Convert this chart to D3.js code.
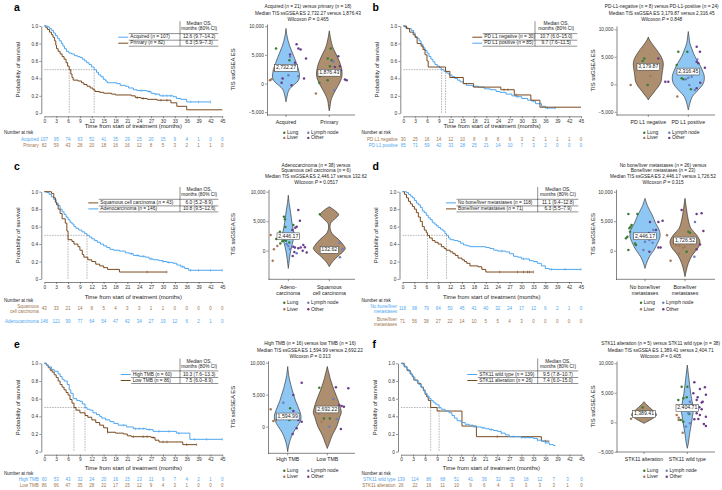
<!DOCTYPE html>
<html><head><meta charset="utf-8">
<script src="https://cdn.jsdelivr.net/npm/d3@7"></script>
<style>
body{margin:0;background:#fff}
svg{display:block}
text{font-family:"Liberation Sans",Arial,Helvetica,sans-serif}
</style>
</head><body>
<svg id="chart" width="722" height="490"></svg>
<script>
// ---------------- DATA ----------------
const riskTimes = [0,3,6,9,12,15,18,21,24,27,30,33,36,39,42,45];
const survTicks = [0,0.2,0.4,0.6,0.8,1];
const siteTypes = ["Lung","Lymph node","Liver","Other"];

// Panel a – KM
const aNames = ["Acquired","Primary"];
const aN = [107,82];
const aMedianText = ["12.6 (9.7–14.2)","6.3 (5.9–7.3)"];
const aMedian = [12.6,6.3];
const aCurveAcquired = [[0,1],[0.8,0.99],[1.3,0.97],[1.8,0.95],[2.3,0.92],[2.8,0.89],[3.3,0.86],[3.8,0.83],[4.3,0.80],[4.7,0.77],[5.1,0.74],[5.6,0.71],[6.2,0.69],[6.9,0.68],[7.6,0.66],[8.4,0.65],[9.0,0.64],[9.6,0.62],[10.2,0.60],[10.7,0.58],[11.3,0.56],[11.9,0.53],[12.6,0.50],[13.2,0.47],[13.7,0.44],[14.3,0.42],[14.9,0.39],[15.5,0.37],[15.9,0.35],[18.3,0.34],[19.2,0.32],[20.4,0.31],[21.3,0.29],[22.5,0.27],[23.4,0.26],[26.0,0.25],[27.0,0.23],[27.8,0.22],[29.2,0.20],[32.6,0.19],[33.4,0.17],[34.5,0.16],[36,0.13],[42,0.13]];
const aCurvePrimary = [[0,1],[0.4,0.98],[0.8,0.96],[1.3,0.93],[1.8,0.90],[2.2,0.87],[2.6,0.83],[2.9,0.78],[3.1,0.74],[3.5,0.71],[4.0,0.68],[4.5,0.65],[5.0,0.62],[5.5,0.58],[5.9,0.54],[6.3,0.50],[6.7,0.45],[7.0,0.41],[7.3,0.38],[8.5,0.37],[9.4,0.35],[10.0,0.33],[10.8,0.31],[11.6,0.29],[12.3,0.27],[12.8,0.25],[14.0,0.24],[15.0,0.23],[17.0,0.22],[18.0,0.21],[22.0,0.20],[23.0,0.18],[24.5,0.17],[26.0,0.16],[28.5,0.15],[32.0,0.12],[33.5,0.08],[36,0.04],[45,0.04]];
const aCensorAcquired = [24.5,26.5,28.2,30,31,32,37,39,42];
const aCensorPrimary = [23.5,25,29.5,31];
const aRiskAcquired = [107,95,74,63,52,41,35,29,25,20,15,9,4,1,0,0];
const aRiskPrimary = [82,59,43,28,20,18,16,16,12,8,5,3,2,1,1,0];

// Panel b – KM
const bNames = ["PD L1 negative","PD L1 positive"];
const bN = [30,85];
const bMedianText = ["10.7 (6.0–15.0)","9.7 (7.6–11.5)"];
const bMedian = [10.7,9.7];
const bCurveNeg = [[0,1],[0.8,0.97],[1.6,0.93],[2.5,0.90],[3.0,0.87],[3.5,0.80],[4.5,0.77],[5.0,0.73],[5.5,0.67],[6.0,0.60],[6.3,0.53],[10.7,0.48],[11.8,0.41],[15.2,0.34],[17.8,0.30],[24.7,0.27],[28.1,0.21],[32.3,0.15],[34.6,0.07],[45,0.07]];
const bCurvePos = [[0,1],[0.5,0.98],[1.2,0.97],[2.0,0.95],[2.6,0.92],[3.0,0.88],[3.5,0.86],[4.0,0.83],[4.5,0.79],[5.0,0.75],[5.5,0.72],[6.0,0.69],[6.5,0.65],[7.0,0.62],[7.5,0.59],[8.0,0.56],[8.6,0.54],[9.2,0.52],[9.7,0.50],[10.3,0.48],[11.0,0.46],[11.6,0.44],[12.3,0.42],[13.0,0.40],[13.7,0.38],[14.4,0.36],[15.2,0.34],[16.0,0.32],[17.5,0.31],[19.0,0.30],[20.5,0.28],[22.0,0.27],[23.5,0.25],[24.5,0.24],[26.0,0.22],[27.5,0.20],[28.5,0.19],[30.0,0.17],[31.5,0.15],[32.5,0.14],[33.5,0.11],[35.0,0.08],[36.0,0.06],[38.5,0.06]];
const bCensorNeg = [25.5,26.5,28.6];
const bCensorPos = [29,33,36.5,38.5];
const bRiskNeg = [30,25,16,14,12,10,8,8,8,6,3,2,1,1,1,0];
const bRiskPos = [85,71,59,42,33,28,25,21,14,10,7,3,2,0,0,0];

// Panel c – KM
const cNames = ["Squamous cell carcinoma","Adenocarcinoma"];
const cN = [43,146];
const cMedianText = ["6.0 (5.2–8.9)","10.8 (9.5–12.6)"];
const cMedian = [6.0,10.8];
const cCurveSq = [[0,1],[1.8,0.98],[2.4,0.93],[2.8,0.88],[3.1,0.85],[3.5,0.80],[4.0,0.75],[4.5,0.69],[5.3,0.64],[5.7,0.55],[6.0,0.45],[7.0,0.43],[7.5,0.40],[8.5,0.37],[9.0,0.33],[9.6,0.28],[10.0,0.25],[11.0,0.22],[12.0,0.20],[13.0,0.17],[14.0,0.15],[15.0,0.13],[16.0,0.11],[19.0,0.08],[31.0,0.08]];
const cCurveAdeno = [[0,1],[0.6,0.99],[1.2,0.97],[1.8,0.94],[2.4,0.91],[3.0,0.87],[3.5,0.84],[4.0,0.80],[4.5,0.77],[5.0,0.74],[5.5,0.71],[6.0,0.68],[6.5,0.65],[7.0,0.63],[7.5,0.60],[8.0,0.58],[8.7,0.56],[9.5,0.54],[10.2,0.52],[10.8,0.50],[11.4,0.48],[12.0,0.46],[12.7,0.44],[13.4,0.42],[14.2,0.40],[15.0,0.38],[15.8,0.36],[16.6,0.34],[17.5,0.33],[19.0,0.32],[20.5,0.30],[21.5,0.29],[22.5,0.27],[24.0,0.26],[25.5,0.25],[26.5,0.23],[27.5,0.22],[29.0,0.21],[30.0,0.20],[31.0,0.19],[32.5,0.18],[33.5,0.16],[34.5,0.14],[35.5,0.12],[36.5,0.10],[45,0.10]];
const cCensorSq = [26,31];
const cCensorAdeno = [22,23.5,25,27,30,31.5,35,37,39,42,45];
const cRiskSq = [43,33,21,14,8,5,4,3,3,1,1,0,0,0,0,0];
const cRiskAdeno = [146,121,99,77,64,54,47,42,34,27,19,12,6,2,1,0];

// Panel d – KM
const dNames = ["No bone/liver metastases","Bone/liver metastases"];
const dN = [118,71];
const dMedianText = ["11.1 (9.4–12.8)","6.3 (5.5–7.9)"];
const dMedian = [11.1,6.3];
const dCurveNoBone = [[0,1],[1.0,0.99],[1.5,0.97],[2.0,0.95],[2.5,0.93],[3.0,0.90],[3.5,0.87],[4.0,0.85],[4.5,0.82],[5.0,0.78],[5.5,0.76],[6.0,0.73],[6.5,0.70],[7.0,0.68],[7.5,0.65],[8.0,0.63],[8.5,0.61],[9.0,0.59],[9.6,0.57],[10.2,0.55],[10.7,0.52],[11.1,0.50],[11.6,0.47],[12.0,0.45],[13.0,0.44],[14.0,0.43],[14.6,0.41],[15.4,0.39],[16.2,0.38],[17.0,0.37],[21.0,0.36],[22.0,0.35],[23.0,0.33],[24.0,0.32],[26.0,0.31],[27.0,0.29],[28.0,0.26],[29.0,0.25],[30.0,0.23],[32.0,0.21],[33.0,0.20],[34.0,0.18],[35.0,0.15],[36.0,0.12],[37.0,0.11],[45,0.11]];
const dCurveBone = [[0,1],[0.5,0.97],[1.0,0.93],[1.5,0.89],[2.0,0.86],[2.5,0.83],[3.0,0.80],[3.5,0.76],[4.0,0.71],[4.5,0.66],[5.0,0.60],[5.5,0.56],[6.0,0.53],[6.3,0.50],[6.8,0.47],[7.5,0.44],[8.2,0.42],[9.0,0.40],[9.8,0.37],[10.5,0.35],[11.0,0.33],[12.0,0.31],[12.7,0.29],[13.3,0.27],[14.0,0.24],[15.0,0.22],[15.6,0.20],[16.2,0.18],[17.0,0.15],[19.0,0.14],[20.0,0.11],[21.0,0.08],[33.0,0.08]];
const dCensorNoBone = [25,30.5,37.5,41,45];
const dCensorBone = [24.5,29,30.5,31.5,32,33];
const dRiskNoBone = [118,98,79,64,50,45,41,40,32,24,17,12,6,2,1,0];
const dRiskBone = [71,56,38,27,22,14,10,5,5,4,3,0,0,0,0,0];

// Panel e – KM
const eNames = ["High TMB","Low TMB"];
const eN = [60,86];
const eMedianText = ["10.3 (7.6–13.3)","7.5 (6.0–8.9)"];
const eMedian = [10.3,7.5];
const eCurveHigh = [[0,1],[0.5,0.98],[1.0,0.96],[1.8,0.93],[2.5,0.91],[3.5,0.88],[4.0,0.85],[4.5,0.82],[5.0,0.80],[5.8,0.76],[6.3,0.70],[6.7,0.66],[7.3,0.60],[8.2,0.58],[9.0,0.57],[9.6,0.54],[10.3,0.50],[10.8,0.48],[11.5,0.47],[12.3,0.44],[13.2,0.42],[14.0,0.40],[14.5,0.38],[15.5,0.36],[16.6,0.34],[17.6,0.32],[18.7,0.30],[20.8,0.28],[22.5,0.26],[25.8,0.25],[27.5,0.23],[33.4,0.21],[36.8,0.14],[45,0.14]];
const eCurveLow = [[0,1],[0.5,0.98],[1.0,0.95],[1.5,0.92],[2.0,0.90],[2.5,0.87],[3.0,0.84],[3.5,0.80],[4.0,0.76],[4.5,0.73],[5.0,0.70],[5.5,0.67],[6.0,0.64],[6.5,0.59],[7.0,0.55],[7.5,0.50],[8.0,0.47],[9.0,0.44],[10.3,0.41],[11.0,0.39],[12.0,0.36],[13.0,0.33],[14.0,0.30],[15.0,0.27],[16.0,0.22],[18.0,0.21],[20.0,0.20],[21.0,0.18],[22.0,0.17],[27.0,0.16],[28.0,0.13],[29.0,0.11],[33.0,0.11],[35.0,0.08],[38.5,0.08]];
const eCensorHigh = [20,23,24,25,26.5,29,31.5,34,38,41,45];
const eCensorLow = [16,22.5,25,26,27.5,30,31,36,38.5];
const eRiskHigh = [60,53,43,32,24,20,16,15,13,11,9,7,4,2,1,0];
const eRiskLow = [86,66,47,35,28,22,17,15,12,9,4,3,1,0,0,0];

// Panel f – KM
const fNames = ["STK11 wild type","STK11 alteration"];
const fN = [139,26];
const fMedianText = ["9.5 (7.8–10.7)","7.4 (6.0–15.0)"];
const fMedian = [9.5,7.4];
const fCurveWT = [[0,1],[0.5,0.98],[1.0,0.96],[1.5,0.93],[2.0,0.90],[2.5,0.87],[3.0,0.84],[3.5,0.81],[4.0,0.79],[4.5,0.76],[5.0,0.73],[5.5,0.70],[6.0,0.66],[6.5,0.63],[7.0,0.60],[7.5,0.58],[8.0,0.56],[8.5,0.54],[9.0,0.53],[9.5,0.50],[10.0,0.48],[11.0,0.46],[12.0,0.44],[12.7,0.41],[13.3,0.38],[14.0,0.35],[15.0,0.33],[16.0,0.31],[17.0,0.30],[18.0,0.28],[20.0,0.27],[21.0,0.26],[22.0,0.25],[23.0,0.24],[24.0,0.23],[25.0,0.21],[26.0,0.19],[27.0,0.17],[30.0,0.16],[33.0,0.15],[34.0,0.13],[35.0,0.12],[36.0,0.10],[37.0,0.08],[38.0,0.07],[38.5,0.07]];
const fCurveAlt = [[0,1],[0.8,0.96],[1.5,0.92],[2.3,0.88],[2.8,0.85],[3.2,0.81],[4.2,0.77],[5.0,0.73],[5.6,0.69],[6.0,0.65],[6.4,0.62],[6.8,0.58],[7.4,0.50],[9.0,0.46],[15.2,0.29],[18.8,0.17],[35.0,0.12],[37.0,0.12]];
const fCensorWT = [20.5,22.5,25,28,30,31,32,34,36];
const fCensorAlt = [24,36];
const fRiskWT = [139,114,86,68,51,41,36,32,25,18,12,7,3,0];
const fRiskAlt = [26,22,16,11,10,9,6,4,3,3,3,3,1,0];

// Violin panels: shapes are [ES value, relative density]; dots are [ES value, jitter (-1..1), site]
const vaTitle = ["Acquired (n = 21) versus primary (n = 18)","Median TIS ssGSEA ES 2,732.27 versus 1,876.43","Wilcoxon P = 0.465"];
const vaCats = [["Acquired"],["Primary"]];
const vaMedian = [2732.27,1876.43];
const vaShapeAcquired = [[9600,0],[8500,0.06],[7500,0.15],[6500,0.28],[5500,0.45],[4500,0.62],[3500,0.78],[2500,0.92],[1500,1.0],[800,0.97],[200,0.8],[-400,0.5],[-1000,0.25],[-1800,0.12],[-2600,0.05],[-3200,0]];
const vaShapePrimary = [[9200,0],[8200,0.07],[7000,0.18],[6000,0.33],[5000,0.55],[4000,0.75],[3000,0.9],[2000,0.98],[1200,0.97],[400,0.85],[-500,0.65],[-1300,0.45],[-2200,0.25],[-3000,0.12],[-4000,0.06],[-4800,0]];
const vaDotsAcquired = [[6100,-0.5,"Lung"],[6860,0.53,"Other"],[6100,0.62,"Other"],[5930,0.73,"Other"],[5060,0.2,"Other"],[4650,0.2,"Lymph node"],[4070,0.17,"Lung"],[4360,1.0,"Other"],[3600,0.45,"Other"],[3300,0.5,"Lymph node"],[2730,-0.55,"Liver"],[2330,-0.6,"Liver"],[2330,-0.38,"Lung"],[760,-0.72,"Liver"],[580,-0.8,"Liver"],[870,-0.17,"Other"],[1450,0.12,"Lymph node"],[1280,0.62,"Lymph node"],[870,0.9,"Other"],[120,-0.22,"Other"],[-290,0.28,"Other"]];
const vaDotsPrimary = [[6100,0.07,"Lung"],[4360,-0.08,"Lung"],[4070,0.12,"Lung"],[3780,0.2,"Lymph node"],[4770,0.45,"Other"],[3020,0.03,"Lung"],[2900,0.28,"Other"],[3020,0.53,"Other"],[2030,-0.3,"Other"],[1280,-0.47,"Lung"],[580,-0.08,"Lung"],[120,-0.5,"Lung"],[-1740,-0.67,"Liver"],[700,0.78,"Other"],[580,0.87,"Other"],[-1160,0.25,"Lymph node"],[2330,0.58,"Other"],[1500,-0.4,"Liver"]];

const vbTitle = ["PD-L1-negative (n = 8) versus PD-L1-positive (n = 24)","Median TIS ssGSEA ES 3,179.87 versus 2,316.45","Wilcoxon P = 0.848"];
const vbCats = [["PD L1 negative"],["PD L1 positive"]];
const vbMedian = [3179.87,2316.45];
const vbShapeNeg = [[8600,0],[8000,0.1],[7200,0.3],[6300,0.55],[5300,0.8],[4300,0.97],[3500,1.0],[2500,0.95],[1500,0.9],[500,0.85],[-300,0.7],[-1000,0.5],[-1800,0.28],[-2400,0.1],[-2850,0]];
const vbShapePos = [[9600,0],[8500,0.05],[7450,0.1],[6240,0.25],[5030,0.42],[3800,0.67],[2600,0.87],[1400,1.0],[180,0.94],[-1000,0.63],[-2240,0.25],[-3450,0.1],[-4670,0]];
const vbDotsNeg = [[4240,-0.28,"Lung"],[4670,-0.2,"Lung"],[4670,0.5,"Other"],[2480,-0.67,"Liver"],[-120,-0.88,"Liver"],[-120,-0.03,"Lung"],[3300,0.3,"Lymph node"],[1500,0.1,"Liver"]];
const vbDotsPos = [[5940,-0.5,"Lung"],[5940,-0.05,"Lung"],[6850,0.42,"Other"],[5940,0.58,"Other"],[4120,0.42,"Other"],[3820,0.5,"Other"],[3030,0.83,"Other"],[3520,-0.58,"Lung"],[1090,-0.33,"Lung"],[910,-0.25,"Lung"],[910,-0.12,"Lymph node"],[1210,0.0,"Lymph node"],[1390,0.17,"Lymph node"],[-910,0.13,"Lung"],[-730,0.42,"Other"],[-1030,0.33,"Lymph node"],[480,-1.15,"Other"],[480,-1.0,"Other"],[-2240,-0.55,"Liver"],[-120,0.05,"Lymph node"],[2000,0.3,"Other"],[4500,0.45,"Lymph node"],[2600,-0.3,"Lung"],[300,0.6,"Other"]];

const vcTitle = ["Adenocarcinoma (n = 38) versus","Squamous cell carcinoma (n = 6)","Median TIS ssGSEA ES 2,446.17 versus 132.62","Wilcoxon P = 0.0517"];
const vcCats = [["Adeno-","carcinoma"],["Squamous","cell carcinoma"]];
const vcMedian = [2446.17,132.62];
const vcShapeAdeno = [[9400,0],[8000,0.15],[6900,0.33],[5200,0.55],[3500,0.83],[2650,1.0],[1800,0.83],[680,0.55],[-730,0.28],[-2150,0.1],[-3000,0]];
const vcShapeSq = [[7450,0],[6800,0.35],[6100,0.58],[5400,0.35],[4600,0.08],[3800,0.05],[3000,0.15],[1800,0.62],[900,0.9],[400,1.0],[-200,0.85],[-730,0.62],[-1870,0.2],[-2700,0]];
const vcDotsAdeno = [[5760,-0.22,"Lung"],[5310,-0.17,"Lung"],[6900,0.5,"Other"],[5080,0.58,"Other"],[4350,0.25,"Lung"],[4070,0.42,"Other"],[2650,-0.88,"Liver"],[3220,-0.42,"Lung"],[2090,-0.28,"Lung"],[1810,-0.22,"Lung"],[1700,-0.12,"Lung"],[1600,-0.3,"Lung"],[790,-0.55,"Liver"],[226,-0.72,"Liver"],[-1700,-0.78,"Liver"],[1130,-0.08,"Lymph node"],[790,0.0,"Lymph node"],[680,0.25,"Other"],[560,0.33,"Other"],[400,0.5,"Other"],[560,0.62,"Other"],[960,0.75,"Other"],[565,0.83,"Other"],[0,0.72,"Other"],[-300,0.92,"Other"],[-900,0.22,"Other"],[-450,0.42,"Lymph node"],[2800,-0.05,"Lung"],[3500,0.2,"Other"],[2300,0.1,"Lung"],[1400,0.05,"Lung"],[3900,0.35,"Other"],[2000,-0.6,"Lung"],[1200,-0.4,"Lung"],[4000,-0.15,"Lung"],[300,0.08,"Lymph node"],[2600,0.5,"Other"],[-200,0.3,"Other"]];
const vcDotsSq = [[6160,-0.47,"Lung"],[1360,0.5,"Lymph node"],[226,0.67,"Lymph node"],[-1130,0.53,"Lymph node"],[226,-0.22,"Liver"],[500,0.1,"Lung"]];

const vdTitle = ["No bone/liver metastases (n = 26) versus","Bone/liver metastases (n = 23)","Median TIS ssGSEA ES 2,446.17 versus 1,726.52","Wilcoxon P = 0.315"];
const vdCats = [["No bone/liver","metastases"],["Bone/liver","metastases"]];
const vdMedian = [2446.17,1726.52];
const vdShapeNoBone = [[8870,0],[7460,0.19],[6050,0.48],[4630,0.71],[3500,0.95],[2370,1.0],[1240,0.83],[110,0.6],[-1020,0.29],[-2150,0.1],[-3000,0]];
const vdShapeBone = [[8870,0],[6900,0.11],[5200,0.22],[3780,0.4],[2650,0.78],[1530,1.0],[560,0.89],[-730,0.49],[-2150,0.22],[-3560,0.07],[-4400,0]];
const vdDotsNoBone = [[6215,-0.83,"Lung"],[6215,-0.38,"Lung"],[4350,-0.67,"Lung"],[4070,-0.72,"Lung"],[3790,-0.78,"Lung"],[2090,-0.95,"Lung"],[2370,-0.88,"Lung"],[3220,-0.75,"Lung"],[1240,-0.5,"Lung"],[110,-0.83,"Lung"],[960,-0.45,"Lung"],[4860,0.25,"Other"],[3500,0.42,"Lymph node"],[3500,0.55,"Other"],[4860,0.67,"Other"],[5080,0.88,"Other"],[1810,0.22,"Lymph node"],[1360,0.38,"Lymph node"],[110,-0.08,"Lymph node"],[-170,0.22,"Other"],[560,0.67,"Other"],[560,0.78,"Other"],[2480,-0.38,"Liver"],[2600,0.1,"Lung"],[3000,0.2,"Other"],[1500,0.0,"Lymph node"]];
const vdDotsBone = [[6900,-0.17,"Other"],[6215,0.58,"Other"],[6330,0.83,"Other"],[4860,0.5,"Lymph node"],[3220,0.17,"Lung"],[3050,0.25,"Lung"],[1920,-0.17,"Liver"],[1810,-0.37,"Liver"],[960,-0.45,"Liver"],[790,-0.28,"Liver"],[1500,-0.58,"Liver"],[-170,0.08,"Lung"],[-1700,-0.72,"Liver"],[1070,0.75,"Other"],[226,0.58,"Other"],[-1020,0.47,"Lymph node"],[3330,0.92,"Other"],[680,0.0,"Liver"],[2600,-0.9,"Liver"],[1300,0.3,"Other"],[500,-0.1,"Liver"],[2200,0.4,"Lymph node"],[-500,-0.3,"Liver"]];

const veTitle = ["High TMB (n = 16) versus low TMB (n = 16)","Median TIS ssGSEA ES 1,594.99 versus 2,692.22","Wilcoxon P = 0.313"];
const veCats = [["High TMB"],["Low TMB"]];
const veMedian = [1594.99,2692.22];
const veShapeHigh = [[9400,0],[8000,0.08],[7000,0.18],[6000,0.3],[5000,0.45],[4000,0.6],[3000,0.8],[2000,0.97],[1200,1.0],[500,0.85],[0,0.7],[-1000,0.4],[-2000,0.2],[-3000,0.07],[-3900,0]];
const veShapeLow = [[9400,0],[7300,0.24],[5730,0.48],[4170,0.76],[2860,0.95],[2200,1.0],[1560,0.9],[0,0.67],[-1300,0.36],[-2600,0.14],[-3400,0]];
const veDotsHigh = [[6875,0.7,"Other"],[3750,-0.22,"Lymph node"],[4950,0.28,"Other"],[2865,0.12,"Lung"],[2450,0.28,"Other"],[2710,-0.85,"Liver"],[1040,-0.58,"Liver"],[885,-0.72,"Liver"],[1040,0.08,"Lung"],[1040,0.53,"Other"],[780,0.7,"Other"],[-260,0.45,"Other"],[-1150,0.25,"Other"],[1820,-0.05,"Lymph node"],[1560,-0.38,"Lung"],[1560,0.37,"Lymph node"]];
const veDotsLow = [[6090,-0.4,"Lung"],[6150,0.43,"Other"],[5990,1.05,"Other"],[4320,0.3,"Lymph node"],[2450,0.05,"Lung"],[1300,-0.17,"Lung"],[1300,0.13,"Lung"],[3230,0.72,"Other"],[3125,0.83,"Other"],[780,-0.28,"Liver"],[0,0.1,"Lymph node"],[-360,0.68,"Other"],[1200,0.47,"Lymph node"],[3385,0.6,"Other"],[2080,-0.45,"Liver"],[3020,0.38,"Lymph node"]];

const vfTitle = ["STK11 alteration (n = 5) versus STK11 wild type (n = 38)","Median TIS ssGSEA ES 1,389.41 versus 2,404.71","Wilcoxon P = 0.405"];
const vfCats = [["STK11 alteration"],["STK11 wild type"]];
const vfMedian = [1389.41,2404.71];
const vfShapeAlt = [[3500,0],[3000,0.2],[2500,0.45],[2000,0.72],[1500,0.95],[1240,1.0],[800,0.8],[400,0.5],[0,0.15],[-200,0]];
const vfShapeWT = [[9700,0],[7200,0.28],[4900,0.55],[3220,0.83],[2370,1.0],[960,0.83],[-170,0.67],[-1860,0.39],[-3560,0.17],[-4400,0]];
const vfDotsAlt = [[2490,-0.07,"Lung"],[620,-0.65,"Liver"],[960,0.13,"Lymph node"],[1240,-0.23,"Liver"],[1530,0.3,"Lung"]];
const vfDotsWT = [[6045,-0.28,"Lung"],[6045,0,"Lung"],[4070,-0.2,"Lung"],[4240,-0.03,"Lung"],[3785,-0.45,"Lung"],[1410,0.1,"Lung"],[1530,0.05,"Lymph node"],[790,-0.43,"Liver"],[395,-0.43,"Liver"],[-1750,-0.23,"Liver"],[113,-0.2,"Lung"],[6780,0.35,"Other"],[5650,0.63,"Other"],[5935,0.88,"Other"],[4690,0.93,"Other"],[4240,0.52,"Other"],[3500,0.77,"Other"],[3335,0.72,"Other"],[3785,0.47,"Other"],[2545,0.6,"Other"],[2205,0.72,"Other"],[2375,0.38,"Lymph node"],[510,0.35,"Other"],[565,0.55,"Other"],[960,0.93,"Other"],[-280,0.83,"Other"],[-620,0.93,"Other"],[-170,0.13,"Lymph node"],[2090,-0.12,"Lung"],[2940,0.22,"Other"],[1240,-0.53,"Liver"],[4920,0.3,"Other"],[1530,0.47,"Other"],[2375,-0.28,"Lung"],[3500,0.13,"Lymph node"],[1240,0.63,"Other"],[-730,-0.07,"Lymph node"],[395,-0.33,"Lung"]];

// ---------------- STYLE ----------------
const COL = {
  ink:"#222",
  blueLine:"#4ea6f0", brownLine:"#7a4a1f",
  blueText:"#4ea6f0", brownText:"#a0734a",
  blueFill:"#8fc7f4", brownFill:"#ad8f6f",
  site:{"Lung":"#3a7a36","Liver":"#a27b5c","Lymph node":"#6a7fc2","Other":"#6a3c8c"}
};
const FS = {tick:4.8, title:5.9, legend:4.8, risk:4.5, vtitle:4.75, cat:5.2, dotleg:5, letter:10.5};

const svg = d3.select("#chart");
svg.append("rect").attr("width",722).attr("height",490).attr("fill","#fff");

function rich(sel, str){
  str.split(/(\bn(?= = )|\bP(?= = ))/).forEach(p=>{
    if(!p) return;
    const t = sel.append("tspan").text(p);
    if(p==="n"||p==="P") t.attr("font-style","italic");
  });
}
function txt(g, x, y, s, fs, opts={}){
  return g.append("text").attr("x",x).attr("y",y).attr("font-size",fs)
    .attr("text-anchor",opts.anchor||"start").attr("dominant-baseline","middle")
    .attr("fill",opts.fill||COL.ink).text(s);
}
function styleAxis(g, fs){
  g.selectAll("path.domain").attr("stroke","#333").attr("stroke-width",0.6);
  g.selectAll(".tick line").attr("stroke","#333").attr("stroke-width",0.5);
  g.selectAll(".tick text").attr("font-size",fs).attr("fill","#333").attr("font-family",null);
}
function survAt(curve,t){ let s=curve[0][1]; for(const p of curve){ if(p[0]<=t) s=p[1]; } return s; }

// ---------------- KM ----------------
function drawKM(c){
  const g = svg.append("g");
  const x = d3.scaleLinear().domain([0,45]).range([c.x0,c.x1]);
  const y = d3.scaleLinear().domain([0,1]).range([c.yBot,c.yTop]);
  g.append("text").text(c.letter).attr("x",c.lx).attr("y",c.ly).attr("font-size",FS.letter).attr("font-weight","bold").attr("fill","#000");
  g.append("g").attr("transform",`translate(0,${c.yBot+3})`)
    .call(d3.axisBottom(x).tickValues(riskTimes).tickSize(2).tickSizeOuter(0).tickPadding(1.2))
    .call(a=>styleAxis(a,FS.tick));
  g.append("g").attr("transform",`translate(${c.x0-3},0)`)
    .call(d3.axisLeft(y).tickValues(survTicks).tickFormat(d=>d===0?"0":d3.format(".1f")(d)).tickSize(2).tickSizeOuter(0).tickPadding(1.2))
    .call(a=>styleAxis(a,FS.tick));
  txt(g,(c.x0+c.x1)/2,c.titleY,"Time from start of treatment (months)",FS.title,{anchor:"middle"});
  g.append("text").attr("transform",`translate(${c.x0-26},${(c.yTop+c.yBot)/2}) rotate(-90)`).attr("text-anchor","middle").attr("dominant-baseline","middle")
    .attr("font-size",FS.title).attr("fill",COL.ink).text("Probability of survival");
  // median dashed lines
  const maxMed = d3.max(c.groups,d=>d.med);
  const dash = g.append("g").attr("stroke","#888").attr("stroke-width",0.6).attr("stroke-dasharray","1.6,1");
  dash.append("line").attr("x1",x(0)).attr("x2",x(maxMed)).attr("y1",y(0.5)).attr("y2",y(0.5));
  c.groups.forEach(gr=>dash.append("line").attr("x1",x(gr.med)).attr("x2",x(gr.med)).attr("y1",y(0.5)).attr("y2",y(0)));
  // curves
  const line = d3.line().curve(d3.curveStepAfter).x(d=>x(d[0])).y(d=>y(d[1]));
  c.groups.slice().reverse().forEach(gr=>{
    const col = gr.blue?COL.blueLine:COL.brownLine;
    g.append("path").attr("d",line(gr.curve)).attr("fill","none").attr("stroke",col).attr("stroke-width",1);
    g.selectAll(null).data(gr.censor).enter().append("line")
      .attr("x1",d=>x(d)).attr("x2",d=>x(d)).attr("y1",d=>y(survAt(gr.curve,d))-1.3).attr("y2",d=>y(survAt(gr.curve,d))+1.3)
      .attr("stroke",col).attr("stroke-width",0.6);
  });
  // legend table
  const L = c.leg, top = c.yTop;
  const lg = g.append("g");
  const textX = L.sx+12;
  const rowsY = [top+11.2, top+17.2];
  const mid = (L.vx+L.rx)/2;
  txt(lg,mid,top-2,"Median OS,",FS.legend,{anchor:"middle"});
  txt(lg,mid,top+3.2,"months (80% CI)",FS.legend,{anchor:"middle"});
  const ln = lg.append("g").attr("stroke","#222").attr("stroke-width",0.5);
  ln.append("line").attr("x1",L.vx).attr("x2",L.vx).attr("y1",top-4.8).attr("y2",top+20.2);
  [top+7.6, top+14.2, top+20.2].forEach(yy=>ln.append("line").attr("x1",textX-1.5).attr("x2",L.rx).attr("y1",yy).attr("y2",yy));
  c.groups.forEach((gr,i)=>{
    const col = gr.blue?COL.blueLine:COL.brownLine;
    lg.append("line").attr("x1",L.sx).attr("x2",L.sx+10).attr("y1",rowsY[i]).attr("y2",rowsY[i]).attr("stroke",col).attr("stroke-width",1);
    const t = lg.append("text").attr("x",textX).attr("y",rowsY[i]).attr("dominant-baseline","middle").attr("font-size",FS.legend).attr("fill",COL.ink);
    rich(t, `${gr.name} (n = ${gr.n})`);
    txt(lg,mid,rowsY[i],gr.ci,FS.legend,{anchor:"middle"});
  });
  // number at risk
  txt(g,c.nrX,c.nrY,"Number at risk",FS.risk);
  c.groups.forEach((gr,i)=>{
    const col = gr.blue?COL.blueText:COL.brownText;
    const ry = c.rowY[i];
    const nl = gr.label.length;
    gr.label.forEach((s,k)=>txt(g,c.x0-5.5,ry+(k-(nl-1)/2)*5.2,s,FS.risk,{anchor:"end",fill:col}));
    const n = gr.risk.length;
    g.selectAll(null).data(gr.risk).enter().append("text")
      .attr("x",(d,k)=> n===riskTimes.length ? x(riskTimes[k]) : x(k*45/(n-1)))
      .attr("y",ry).attr("text-anchor","middle").attr("dominant-baseline","middle").attr("font-size",FS.risk).attr("fill",col).text(d=>d);
  });
}

const kmPanels = [
  {letter:"a",lx:14,ly:10.5,x0:44.3,x1:222.3,yTop:26,yBot:113.3,titleY:126.7,nrX:4,nrY:132.7,rowY:[140,146],leg:{sx:118.3,vx:180,rx:218.3},
   groups:[{name:aNames[0],n:aN[0],ci:aMedianText[0],med:aMedian[0],blue:true,curve:aCurveAcquired,censor:aCensorAcquired,risk:aRiskAcquired,label:[aNames[0]]},
           {name:aNames[1],n:aN[1],ci:aMedianText[1],med:aMedian[1],blue:false,curve:aCurvePrimary,censor:aCensorPrimary,risk:aRiskPrimary,label:[aNames[1]]}]},
  {letter:"b",lx:372.5,ly:10.5,x0:403.3,x1:581,yTop:26,yBot:113.3,titleY:126.7,nrX:361.5,nrY:132.7,rowY:[140,146],leg:{sx:472.3,vx:535,rx:577.3},
   groups:[{name:bNames[0],n:bN[0],ci:bMedianText[0],med:bMedian[0],blue:false,curve:bCurveNeg,censor:bCensorNeg,risk:bRiskNeg,label:[bNames[0]]},
           {name:bNames[1],n:bN[1],ci:bMedianText[1],med:bMedian[1],blue:true,curve:bCurvePos,censor:bCensorPos,risk:bRiskPos,label:[bNames[1]]}]},
  {letter:"c",lx:14,ly:170,x0:44.3,x1:222.3,yTop:191.7,yBot:279,titleY:297.3,nrX:4,nrY:301.2,rowY:[309.3,322],leg:{sx:88.3,vx:180,rx:218.3},
   groups:[{name:cNames[0],n:cN[0],ci:cMedianText[0],med:cMedian[0],blue:false,curve:cCurveSq,censor:cCensorSq,risk:cRiskSq,label:["Squamous","cell carcinoma"]},
           {name:cNames[1],n:cN[1],ci:cMedianText[1],med:cMedian[1],blue:true,curve:cCurveAdeno,censor:cCensorAdeno,risk:cRiskAdeno,label:[cNames[1]]}]},
  {letter:"d",lx:372.5,ly:170,x0:402.5,x1:581,yTop:191.7,yBot:279,titleY:297.3,nrX:361.5,nrY:301.2,rowY:[309.3,322],leg:{sx:446,vx:537.7,rx:578.3},
   groups:[{name:dNames[0],n:dN[0],ci:dMedianText[0],med:dMedian[0],blue:true,curve:dCurveNoBone,censor:dCensorNoBone,risk:dRiskNoBone,label:["No bone/liver","metastases"]},
           {name:dNames[1],n:dN[1],ci:dMedianText[1],med:dMedian[1],blue:false,curve:dCurveBone,censor:dCensorBone,risk:dRiskBone,label:["Bone/liver","metastases"]}]},
  {letter:"e",lx:14,ly:348.3,x0:44.3,x1:222.3,yTop:363.3,yBot:451.7,titleY:468.3,nrX:4,nrY:474,rowY:[480,485.7],leg:{sx:120.7,vx:180,rx:218.3},
   groups:[{name:eNames[0],n:eN[0],ci:eMedianText[0],med:eMedian[0],blue:true,curve:eCurveHigh,censor:eCensorHigh,risk:eRiskHigh,label:[eNames[0]]},
           {name:eNames[1],n:eN[1],ci:eMedianText[1],med:eMedian[1],blue:false,curve:eCurveLow,censor:eCensorLow,risk:eRiskLow,label:[eNames[1]]}]},
  {letter:"f",lx:372.5,ly:348.3,x0:401,x1:581.5,yTop:363.3,yBot:451.7,titleY:468.3,nrX:361.5,nrY:474,rowY:[480,485.7],leg:{sx:467.3,vx:537.7,rx:578.3},
   groups:[{name:fNames[0],n:fN[0],ci:fMedianText[0],med:fMedian[0],blue:true,curve:fCurveWT,censor:fCensorWT,risk:fRiskWT,label:[fNames[0]]},
           {name:fNames[1],n:fN[1],ci:fMedianText[1],med:fMedian[1],blue:false,curve:fCurveAlt,censor:fCensorAlt,risk:fRiskAlt,label:[fNames[1]]}]}
];
kmPanels.forEach(drawKM);

// ---------------- VIOLINS ----------------
function drawViolin(v){
  const g = svg.append("g");
  const per = (v.zeroY - v.tenkY)/10000;
  const ys = d3.scaleLinear().domain([(v.zeroY-v.axisBot)/per,(v.zeroY-v.axisTop)/per]).range([v.axisBot,v.axisTop]);
  const ticks = [-5000,0,5000,10000].filter(t=>t>=ys.domain()[0]&&t<=ys.domain()[1]);
  g.append("g").attr("transform",`translate(${v.axisX},0)`)
    .call(d3.axisLeft(ys).tickValues(ticks).tickFormat(d3.format(",")).tickSize(2).tickSizeOuter(0).tickPadding(1.2))
    .call(a=>styleAxis(a,FS.tick));
  const xb = d3.scalePoint().domain([0,1]).range(v.cx);
  const xa = g.append("g").attr("transform",`translate(0,${v.axisBot})`);
  xa.append("line").attr("x1",v.axisX).attr("x2",v.rightX).attr("stroke","#333").attr("stroke-width",0.6);
  [0,1].forEach(i=>{
    xa.append("line").attr("x1",xb(i)).attr("x2",xb(i)).attr("y1",0).attr("y2",2).attr("stroke","#333").attr("stroke-width",0.5);
    v.cats[i].forEach((s,k)=>txt(xa,xb(i),v.catY-v.axisBot+k*5.6,s,FS.cat,{anchor:"middle"}));
  });
  g.append("text").attr("transform",`translate(${v.ylabX},${(v.axisTop+v.axisBot)/2}) rotate(-90)`).attr("text-anchor","middle").attr("dominant-baseline","middle")
    .attr("font-size",FS.title).attr("fill",COL.ink).text("TIS ssGSEA ES");
  v.title.forEach((s,k)=>{
    const t = g.append("text").attr("x",v.titleX).attr("y",v.titleY[k]).attr("text-anchor","middle").attr("dominant-baseline","middle").attr("font-size",FS.vtitle).attr("fill",COL.ink);
    rich(t,s);
  });
  const jit = d3.scaleLinear().domain([-1,1]).range([-20,20]);
  [0,1].forEach(i=>{
    const cx = xb(i);
    const w = d3.scaleLinear().domain([0,1]).range([0,v.maxW[i]]);
    const area = d3.area().curve(d3.curveCatmullRom.alpha(0.5)).y(d=>ys(d[0])).x0(d=>cx-w(d[1])).x1(d=>cx+w(d[1]));
    g.append("path").attr("d",area(v.shapes[i])).attr("fill",v.blue[i]?COL.blueFill:COL.brownFill).attr("stroke","#222").attr("stroke-width",0.6);
  });
  [0,1].forEach(i=>{
    const cx = xb(i);
    g.selectAll(null).data(v.dots[i]).enter().append("circle")
      .attr("cx",d=>cx+jit(d[1])).attr("cy",d=>ys(d[0])).attr("r",1.25).attr("fill",d=>COL.site[d[2]]);
  });
  [0,1].forEach(i=>{
    const cx = xb(i), cy = ys(v.median[i]);
    const t = txt(g,cx,cy,d3.format(",.2f")(v.median[i]),FS.cat,{anchor:"middle"});
    const bb = t.node().getBBox();
    g.insert("rect",()=>t.node()).attr("x",bb.x-1.2).attr("y",cy-3.4).attr("width",bb.width+2.4).attr("height",6.8).attr("fill","#fff").attr("stroke","#333").attr("stroke-width",0.5);
  });
  // site legend
  const order = [["Lung","Lymph node"],["Liver","Other"]];
  order.forEach((row,r)=>row.forEach((name,cI)=>{
    const dx = v.legX[cI], dy = v.legY[r];
    g.append("circle").attr("cx",dx).attr("cy",dy).attr("r",1.2).attr("fill",COL.site[name]);
    txt(g,dx+2.8,dy,name,FS.dotleg);
  }));
}

const violinPanels = [
  {title:vaTitle,titleX:308,titleY:[7.3,13.8,20.2],cats:vaCats,median:vaMedian,shapes:[vaShapeAcquired,vaShapePrimary],dots:[vaDotsAcquired,vaDotsPrimary],blue:[true,false],
   axisX:267,rightX:355,cx:[286,329.3],zeroY:83.5,tenkY:26.2,axisTop:24,axisBot:115,catY:122.7,ylabX:233,maxW:[13.5,13],legX:[284.3,308.3],legY:[132.7,137.9]},
  {title:vbTitle,titleX:661.7,titleY:[7.3,13.8,20.2],cats:vbCats,median:vbMedian,shapes:[vbShapeNeg,vbShapePos],dots:[vbDotsNeg,vbDotsPos],blue:[false,true],
   axisX:616.5,rightX:715,cx:[648.3,688.3],zeroY:84.3,tenkY:29.3,axisTop:26,axisBot:115,catY:122.7,ylabX:593.3,maxW:[15,16],legX:[644.3,669.3],legY:[132.7,137.9]},
  {title:vcTitle,titleX:316,titleY:[165.7,171.1,176.5,182.8],cats:vcCats,median:vcMedian,shapes:[vcShapeAdeno,vcShapeSq],dots:[vcDotsAdeno,vcDotsSq],blue:[true,false],
   axisX:268.5,rightX:355,cx:[288.3,329.3],zeroY:250.7,tenkY:191.7,axisTop:189.3,axisBot:279.3,catY:287.7,ylabX:233,maxW:[6,16],legX:[284.3,308.3],legY:[302.7,309.3]},
  {title:vdTitle,titleX:663,titleY:[165.7,171.1,176.5,182.8],cats:vdCats,median:vdMedian,shapes:[vdShapeNoBone,vdShapeBone],dots:[vdDotsNoBone,vdDotsBone],blue:[true,false],
   axisX:616,rightX:715,cx:[645,685],zeroY:250.7,tenkY:191.7,axisTop:189.3,axisBot:279.3,catY:287.7,ylabX:593.3,maxW:[15,15],legX:[641,663.3],legY:[302.7,309.3]},
  {title:veTitle,titleX:310,titleY:[344,350.5,356.8],cats:veCats,median:veMedian,shapes:[veShapeHigh,veShapeLow],dots:[veDotsHigh,veDotsLow],blue:[true,false],
   axisX:268,rightX:355,cx:[287.7,327.3],zeroY:426.7,tenkY:362.7,axisTop:360.7,axisBot:453.3,catY:460,ylabX:233,maxW:[13.3,14],legX:[284.3,308.3],legY:[470.7,476.7]},
  {title:vfTitle,titleX:660.7,titleY:[344,350.5,356.8],cats:vfCats,median:vfMedian,shapes:[vfShapeAlt,vfShapeWT],dots:[vfDotsAlt,vfDotsWT],blue:[false,true],
   axisX:616.5,rightX:715,cx:[644,687.3],zeroY:422.3,tenkY:363.3,axisTop:361,axisBot:452,catY:460,ylabX:593.3,maxW:[12.5,6.2],legX:[644.3,666.7],legY:[470.7,476.7]}
];
violinPanels.forEach(drawViolin);
</script>
</body></html>
